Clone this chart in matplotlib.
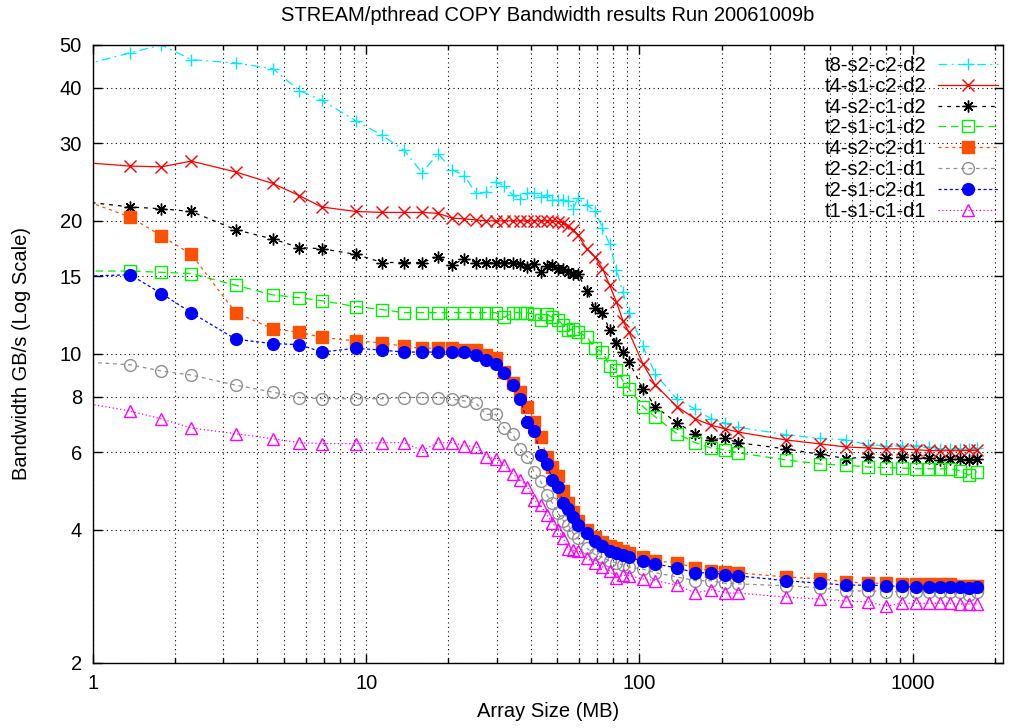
import matplotlib
matplotlib.use("Agg")
import matplotlib.pyplot as plt
from matplotlib.ticker import FixedLocator, LogLocator, NullFormatter, NullLocator

plt.rcParams['font.family'] = ['Liberation Sans', 'DejaVu Sans']

# array sizes (MB), shared by every run
x_mb = [0.92, 1.37, 1.78, 2.29, 3.33, 4.55, 5.7, 6.87, 9.16, 11.45, 13.74,
        16.03, 18.32, 20.61, 22.9, 25.19, 27.48, 29.77, 32.06, 34.35, 36.64,
        38.93, 41.22, 43.51, 45.8, 48.09, 50.38, 52.67, 54.96, 57.25, 59.54,
        64.12, 68.7, 73.28, 77.86, 82.44, 87.02, 91.6,
        103.05, 114.5, 137.4, 160.3, 183.2, 206.1, 229,
        343.5, 458, 572.5, 687, 801.5, 916, 1030.5, 1145, 1259.5, 1374,
        1488.5, 1603, 1717.5]

# bandwidth GB/s per run
t8_s2_c2_d2 = [45.0, 48.0, 50.0, 46.3, 45.5, 44.2, 39.4, 37.5, 33.7, 31.2, 28.9,
               25.7, 28.4, 26.1, 25.3, 23.1, 23.2, 24.5, 24.0, 22.9, 22.4, 23.1, 23.1, 22.6, 22.9,
               22.3, 22.3, 22.3, 22.2, 21.3, 22.5,
               21.7, 21.1, 19.3, 17.7, 15.5, 13.8, 12.4,
               10.4, 9.0, 7.9, 7.5, 7.13, 6.97, 6.83,
               6.57, 6.44, 6.4, 6.23, 6.2, 6.2, 6.2, 6.17, 6.1, 6.1, 6.1, 6.1, 6.12]
t4_s1_c2_d2 = [27.1, 26.6, 26.5, 27.3, 25.8, 24.3, 22.8, 21.5, 21.0, 20.9, 20.9,
               20.9, 20.8, 20.3, 20.2, 20.1, 20.0, 20.0, 20.0, 20.0, 20.0, 20.0, 20.0, 20.0, 20.0,
               20.0, 19.9, 19.8, 19.5, 19.1, 18.6,
               17.3, 16.6, 15.6, 14.3, 13.1, 11.9, 11.2,
               9.5, 8.5, 7.6, 7.13, 6.9, 6.77, 6.66,
               6.39, 6.26, 6.16, 6.13, 6.1, 6.1, 6.07, 6.05, 6.04, 6.04, 6.04, 6.05, 6.05]
t4_s2_c1_d2 = [22.1, 21.5, 21.3, 21.0, 19.1, 18.2, 17.4, 17.3, 16.8, 16.1, 16.1,
               16.1, 16.6, 15.9, 16.4, 16.1, 16.1, 16.1, 16.1, 16.1, 16.0, 15.7, 16.0, 15.3, 15.8,
               15.9, 15.6, 15.6, 15.3, 15.2, 15.2,
               13.9, 12.7, 12.4, 11.3, 10.6, 10.1, 9.6,
               8.35, 7.6, 6.98, 6.6, 6.4, 6.45, 6.3,
               6.1, 5.93, 5.8, 5.85, 5.82, 5.84, 5.83, 5.82, 5.76, 5.8, 5.8, 5.77, 5.8]
t2_s1_c1_d2 = [15.4, 15.4, 15.3, 15.2, 14.3, 13.6, 13.4, 13.2, 12.8, 12.6, 12.4,
               12.4, 12.4, 12.4, 12.4, 12.4, 12.4, 12.4, 12.1, 12.4, 12.4, 12.4, 12.3, 11.95, 12.3,
               12.1, 11.95, 11.6, 11.3, 11.4, 11.2,
               10.95, 10.3, 10.1, 9.4, 9.2, 8.7, 8.35,
               7.6, 7.2, 6.6, 6.3, 6.13, 6.07, 5.98,
               5.76, 5.64, 5.6, 5.55, 5.53, 5.52, 5.5, 5.5, 5.5, 5.5, 5.45, 5.32, 5.42]
t4_s2_c2_d1 = [22.3, 20.4, 18.5, 16.8, 12.4, 11.4, 11.2, 10.9, 10.7, 10.6, 10.4,
               10.3, 10.3, 10.3, 10.2, 10.2, 9.95, 9.8, 9.1, 8.6, 8.2, 7.6, 7.0, 6.5, 5.85,
               5.55, 5.3, 4.9, 4.6, 4.4, 4.2,
               4.0, 3.85, 3.75, 3.68, 3.64, 3.58, 3.55,
               3.48, 3.4, 3.37, 3.28, 3.23, 3.21, 3.2,
               3.13, 3.1, 3.05, 3.03, 3.03, 3.02, 3.02, 3.02, 3.01, 3.01, 2.99, 2.99, 2.99]
t2_s2_c1_d1 = [9.6, 9.45, 9.15, 8.96, 8.5, 8.2, 7.97, 7.92, 7.92, 7.92, 7.97,
               7.97, 7.97, 7.9, 7.83, 7.75, 7.3, 7.3, 6.8, 6.6, 6.1, 5.85, 5.4, 5.15, 4.8,
               4.6, 4.36, 4.2, 4.1, 3.93, 3.83,
               3.64, 3.52, 3.47, 3.4, 3.37, 3.33, 3.3,
               3.26, 3.2, 3.13, 3.07, 3.07, 3.03, 3.02,
               2.99, 2.96, 2.91, 2.91, 2.9, 2.9, 2.9, 2.9, 2.9, 2.9, 2.9, 2.85, 2.9]
t2_s1_c2_d1 = [15.0, 15.1, 13.7, 12.4, 10.8, 10.55, 10.5, 10.1, 10.3, 10.2, 10.1,
               10.1, 10.1, 10.1, 10.1, 9.95, 9.7, 9.5, 9.05, 8.5, 7.9, 7.0, 6.7, 5.9, 5.65,
               5.2, 5.0, 4.6, 4.45, 4.27, 4.1,
               3.93, 3.77, 3.68, 3.58, 3.55, 3.51, 3.47,
               3.4, 3.35, 3.28, 3.2, 3.2, 3.17, 3.15,
               3.07, 3.03, 3.0, 3.0, 2.99, 2.98, 2.97, 2.97, 2.97, 2.97, 2.97, 2.96, 2.97]
t1_s1_c1_d1 = [7.75, 7.43, 7.13, 6.8, 6.6, 6.43, 6.3, 6.27, 6.27, 6.3, 6.3,
               6.05, 6.3, 6.3, 6.2, 6.17, 5.85, 5.8, 5.6, 5.35, 5.2, 5.0, 4.67, 4.55, 4.33,
               4.15, 4.0, 3.83, 3.62, 3.6, 3.58,
               3.45, 3.37, 3.3, 3.23, 3.12, 3.16, 3.15,
               3.1, 3.07, 3.0, 2.88, 2.93, 2.88, 2.88,
               2.82, 2.79, 2.76, 2.75, 2.69, 2.73, 2.73, 2.73, 2.73, 2.73, 2.72, 2.72, 2.72]

y_ticks = [2, 4, 6, 8, 10, 15, 20, 30, 40, 50]

# label, data, colour, marker, size, filled?, dash pattern
runs = [
    ('t8-s2-c2-d2', t8_s2_c2_d2, '#00e8ff', '+', 8.5, True, (7, 3.5, 1.5, 3.5)),
    ('t4-s1-c2-d2', t4_s1_c2_d2, '#ff0000', 'x', 8, True, None),
    ('t4-s2-c1-d2', t4_s2_c1_d2, '#000000', (8, 2, 0), 8.5, True, (3, 4)),
    ('t2-s1-c1-d2', t2_s1_c1_d2, '#00ee00', 's', 8, False, (6, 4)),
    ('t4-s2-c2-d1', t4_s2_c2_d1, '#ff5000', 's', 8, True, (2.5, 3)),
    ('t2-s2-c1-d1', t2_s2_c1_d1, '#909090', 'o', 8.5, False, (3, 3)),
    ('t2-s1-c2-d1', t2_s1_c2_d1, '#0000ff', 'o', 8.5, True, (2.5, 2)),
    ('t1-s1-c1-d1', t1_s1_c1_d1, '#ff00ff', '^', 8, False, (1, 2)),
]

fig = plt.figure(figsize=(10.12, 7.28), dpi=100)
ax = fig.add_axes([0.0919, 0.0893, 0.899, 0.849])

for label, ys, col, mk, ms, filled, dash in runs:
    ln, = ax.plot(x_mb, ys, color=col, lw=0.9, marker=mk, markersize=ms,
                  markeredgewidth=1.0,
                  markerfacecolor=col if filled else 'none',
                  markeredgecolor=col, label=label)
    if dash is not None:
        ln.set_dashes(dash)

ax.set_xscale('log')
ax.set_yscale('log')
ax.set_xlim(1, 2140)
ax.set_ylim(2, 50)

ax.xaxis.set_major_locator(FixedLocator([1, 10, 100, 1000]))
ax.xaxis.set_major_formatter(matplotlib.ticker.FixedFormatter(['1', '10', '100', '1000']))
ax.xaxis.set_minor_locator(LogLocator(base=10, subs=range(2, 10)))
ax.xaxis.set_minor_formatter(NullFormatter())
ax.yaxis.set_major_locator(FixedLocator(y_ticks))
ax.yaxis.set_major_formatter(matplotlib.ticker.FixedFormatter([str(v) for v in y_ticks]))
ax.yaxis.set_minor_locator(NullLocator())

ax.tick_params(which='both', direction='in', top=True, right=True, labelsize=14.5, width=1)
ax.tick_params(which='major', length=6.5, pad=8)
ax.tick_params(which='minor', length=3.5)

ax.grid(True, which='major', color='black', lw=0.8, linestyle=(0, (1, 3)))
ax.grid(True, which='minor', axis='x', color='black', lw=0.8, linestyle=(0, (1, 3)))
ax.set_axisbelow(True)
for sp in ax.spines.values():
    sp.set_linewidth(1.0)

ax.set_title('STREAM/pthread COPY Bandwidth results Run 20061009b', fontsize=14.5, pad=17)
ax.set_xlabel('Array Size (MB)', fontsize=14.5)
ax.set_ylabel('Bandwidth GB/s (Log Scale)', fontsize=14.5)
ax.xaxis.set_label_coords(0.5, -0.063)
ax.yaxis.set_label_coords(-0.068, 0.5)

ax.legend(loc='upper right', bbox_to_anchor=(0.995, 0.982), frameon=False,
          fontsize=14.5, markerfirst=False, handlelength=3.0, handletextpad=0.55,
          labelspacing=0.09, borderaxespad=0, borderpad=0)

fig.savefig('out.png', dpi=100)
